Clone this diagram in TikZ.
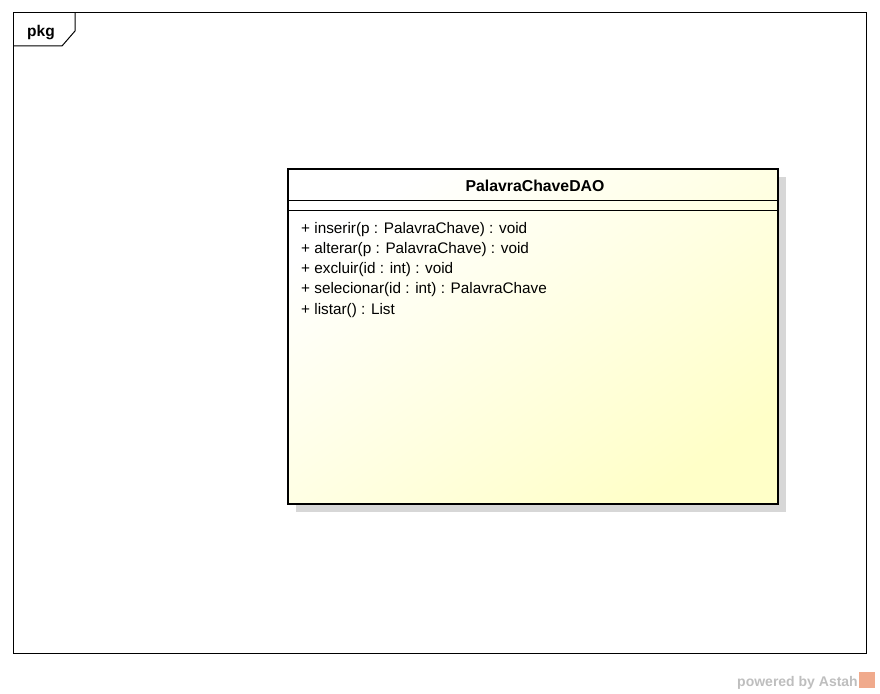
\documentclass[tikz,border=0pt]{standalone}
\usepackage{fontspec}
\setmainfont{Liberation Sans}
\definecolor{classyellow}{RGB}{255,255,200}
\definecolor{wmgray}{RGB}{190,190,190}
\definecolor{astahicon}{RGB}{240,170,140}
\definecolor{shadowgray}{RGB}{215,215,215}
\begin{document}
\begin{tikzpicture}[x=1pt,y=-1pt,
  frameline/.style={draw=black,line width=1pt},
  classbox/.style={draw=black,line width=2.6pt},
  method/.style={anchor=base west,inner sep=0pt,font=\fontsize{15.3}{18}\selectfont},
  title/.style={anchor=base,inner sep=0pt,font=\fontsize{15.8}{18}\selectfont\bfseries}]
\useasboundingbox (0,0) rectangle (880,693);
% package frame
\draw[frameline] (13,13) rectangle (866,653);
\draw[frameline] (13,46) -- (62,46) -- (75,31) -- (75,13);
\node[anchor=base west,inner sep=0pt,font=\fontsize{15.5}{18}\selectfont\bfseries] (pkg) at (27,37) {pkg};
% shadow
\fill[shadowgray] (296,177) rectangle (786,512);
% class box
\shade[left color=classyellow, right color=white, shading angle=-145] (288,169) rectangle (778,504);
\draw[classbox] (288,169) rectangle (778,504);
\draw[line width=1pt] (288,200) -- (778,200);
\draw[line width=1pt] (288,210) -- (778,210);
\node[title] (name) at (535,191.5) {PalavraChaveDAO};
\node[method] (m1) at (301,233) {+ inserir(p : PalavraChave) : void};
\node[method] (m2) at (301,253.3) {+ alterar(p : PalavraChave) : void};
\node[method] (m3) at (301,273.5) {+ excluir(id : int) : void};
\node[method] (m4) at (301,293.8) {+ selecionar(id : int) : PalavraChave};
\node[method] (m5) at (301,314) {+ listar() : List};
% watermark
\node[anchor=base east,inner sep=0pt,text=wmgray,font=\fontsize{14}{16}\selectfont\bfseries] (wm) at (858,686) {powered by Astah};
\fill[astahicon] (859,672) rectangle (875,688);
\end{tikzpicture}
\end{document}
